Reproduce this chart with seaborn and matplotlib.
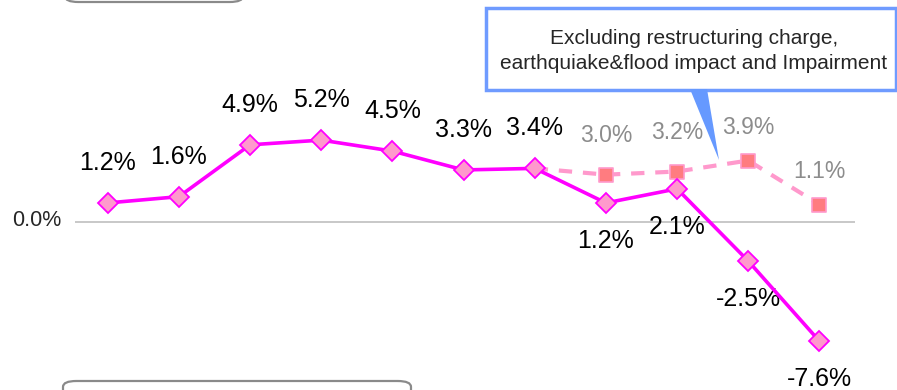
import numpy as np
import pandas as pd
import matplotlib.pyplot as plt
import seaborn as sns
from matplotlib.patches import FancyBboxPatch, Polygon, Rectangle

# Data
periods = list(range(11))
reported = [1.2, 1.6, 4.9, 5.2, 4.5, 3.3, 3.4, 1.2, 2.1, -2.5, -7.6]
adj_periods = [6, 7, 8, 9, 10]
adjusted = [3.4, 3.0, 3.2, 3.9, 1.1]
adj_labels = ["", "3.0%", "3.2%", "3.9%", "1.1%"]
label_below = [False] * 7 + [True] * 4
callout_text = "Excluding restructuring charge,\nearthquiake&flood impact and Impairment"

df = pd.DataFrame({"period": periods, "value": reported})
df_adj = pd.DataFrame({"period": adj_periods, "value": adjusted})

sns.set_style("white")
plt.rcParams["font.family"] = ["Liberation Sans", "DejaVu Sans"]

fig = plt.figure(figsize=(8.97, 3.90), dpi=100)
ax = fig.add_axes([75 / 897, 0, 780 / 897, 1])

# adjusted dashed series
sns.lineplot(data=df_adj, x="period", y="value", ax=ax, color="#ff99cc",
             linewidth=3, dashes=False, zorder=2)
ax.lines[-1].set_dashes([3.2, 2.6])
sns.scatterplot(data=df_adj.iloc[1:], x="period", y="value", ax=ax, marker="s",
                s=100, color="#ff7c80", edgecolor="#ff99cc", linewidth=1.2, zorder=3)

# reported series
sns.lineplot(data=df, x="period", y="value", ax=ax, color="#ff00ff",
             linewidth=2.6, marker="D", markersize=10,
             markerfacecolor="#ff99cc", markeredgecolor="#ff00ff",
             markeredgewidth=1.3, zorder=4)

ax.axhline(0, color="#bfbfbf", linewidth=1.2, zorder=1)

for x, v, below in zip(periods, reported, label_below):
    off = -38 if below else 40
    ax.annotate(f"{v:.1f}%", (x, v), textcoords="offset pixels", xytext=(0, off),
                ha="center", va="center", fontsize=18, color="black")

for x, v, lab in zip(adj_periods, adjusted, adj_labels):
    if lab:
        off = 39 if x in (7, 8) else 33
        ax.annotate(lab, (x, v), textcoords="offset pixels", xytext=(0, off),
                    ha="center", va="center", fontsize=16.5, color="#8c8c8c")

ax.set_xlim(-0.46, 10.5)
ax.set_ylim(-10.71, 14.12)
ax.set_xlabel("")
ax.set_ylabel("")
ax.set_xticks([])
ax.set_yticks([])
sns.despine(ax=ax, left=True, bottom=True)
ax.patch.set_alpha(0)

fig.text(12 / 897, 1 - 220 / 390, "0.0%", fontsize=15.5, ha="left", va="center")

# callout box
W, H = 897, 390
box = Rectangle((486 / W, 1 - 90 / H), 410 / W, 82 / H, transform=fig.transFigure,
                facecolor="white", edgecolor="#6f9bff", linewidth=2.5, zorder=5)
fig.patches.append(box)
tri = Polygon([(690 / W, 1 - 89 / H), (707 / W, 1 - 89 / H), (719 / W, 1 - 160 / H)],
              closed=True, transform=fig.transFigure, facecolor="#6699ff",
              edgecolor="none", zorder=5)
fig.patches.append(tri)
fig.text(694 / W, 1 - 51 / H, callout_text, ha="center", va="center",
         fontsize=15, linespacing=1.45, zorder=6)

# partially visible rounded frames
for (x0, y0, w, h) in [(65, -20, 178, 22), (63, 381, 348, 30)]:
    frame = FancyBboxPatch((x0 / W, 1 - (y0 + h) / H), w / W, h / H,
                           boxstyle="round,pad=0,rounding_size=0.015",
                           transform=fig.transFigure, facecolor="white",
                           edgecolor="#8a8a8a", linewidth=1.6, zorder=5)
    fig.patches.append(frame)

fig.savefig("out.png", dpi=100)
